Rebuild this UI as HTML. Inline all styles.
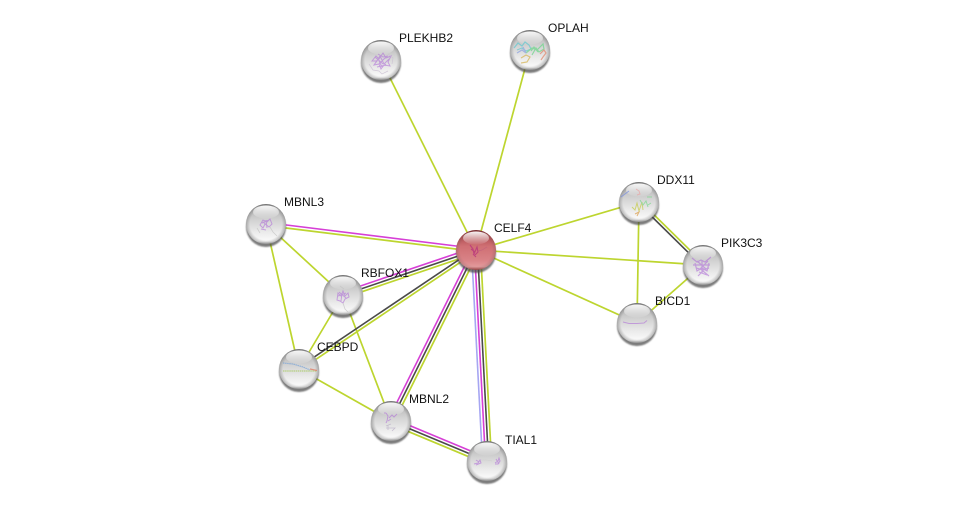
<!DOCTYPE html>
<html><head><meta charset="utf-8"><style>
html,body{margin:0;padding:0;background:#fff;width:976px;height:507px;overflow:hidden}
svg{display:block}
text{font-family:"Liberation Sans",sans-serif;font-size:12px;fill:#111}
.l{stroke:#bdd52f;stroke-width:1.7;fill:none}
.m{stroke:#d63fd6;stroke-width:1.6;fill:none}
.k{stroke:#4a4a4a;stroke-width:1.6;fill:none}
.b{stroke:#a6a6f2;stroke-width:1.6;fill:none}
.p{stroke:#b070d8;stroke-width:1;fill:none;opacity:.6;filter:url(#bl)}
.c{fill:none;filter:url(#bl);opacity:.75}
</style></head><body>
<svg width="976" height="507" viewBox="0 0 976 507" xmlns="http://www.w3.org/2000/svg">
<defs>
<filter id="bl" x="-20%" y="-20%" width="140%" height="140%"><feGaussianBlur stdDeviation=".35"/></filter>
<filter id="sb" x="-20%" y="-20%" width="140%" height="140%"><feGaussianBlur stdDeviation=".9"/></filter>
<linearGradient id="g" x1="0" y1="0" x2="0" y2="1">
<stop offset="0" stop-color="#858585"/><stop offset=".1" stop-color="#b4b4b4"/><stop offset=".4" stop-color="#d2d2d2"/><stop offset=".72" stop-color="#ececec"/><stop offset=".93" stop-color="#fafafa"/><stop offset="1" stop-color="#b8b8b8"/>
</linearGradient>
<radialGradient id="e" cx="50%" cy="50%" r="50%">
<stop offset=".8" stop-color="#555" stop-opacity="0"/><stop offset="1" stop-color="#444" stop-opacity=".35"/>
</radialGradient>
<linearGradient id="r" x1="0" y1="0" x2="0" y2="1">
<stop offset="0" stop-color="#7f2327"/><stop offset=".12" stop-color="#ab4a4e"/><stop offset=".4" stop-color="#cf6f73"/><stop offset=".75" stop-color="#d98286"/><stop offset=".92" stop-color="#e39a9c"/><stop offset="1" stop-color="#a44"/>
</linearGradient>
<linearGradient id="h" x1="0" y1="0" x2="0" y2="1">
<stop offset="0" stop-color="#fff" stop-opacity=".95"/><stop offset="1" stop-color="#fff" stop-opacity=".05"/>
</linearGradient>
<g id="n">
<circle cx="0" cy="3" r="20" fill="#444" opacity=".7" filter="url(#sb)"/>
<circle r="20" fill="url(#g)"/>
<circle r="20" fill="url(#e)"/>
<ellipse cx="0" cy="-12" rx="13" ry="6.500" fill="url(#h)"/>
</g>
<g id="nr">
<circle cx="0" cy="3" r="20" fill="#444" opacity=".7" filter="url(#sb)"/>
<circle r="20" fill="url(#r)"/>
<circle r="20" fill="url(#e)" opacity=".6"/>
<ellipse cx="0" cy="-12" rx="13" ry="6.500" fill="url(#h)"/>
</g>
</defs>
<rect width="976" height="507" fill="#fff"/>

<!-- single edges -->
<path class="l" d="M381 60L476 250M530 50L476 250M639 202L476 250M703 265L476 250M637 323L476 250"/>
<path class="l" d="M639 202L637 323M703 265L637 323"/>
<path class="l" d="M266 224L343 295M266 224L299 369M343 295L299 369M343 295L391 421M299 369L391 421"/>

<!-- CELF4 - MBNL3 -->
<path class="m" d="M266.200 222.500L476.200 248.500"/><path class="l" d="M265.800 225.500L475.800 251.500"/>
<!-- CELF4 - RBFOX1 -->
<path class="m" d="M342 292.200L475 247.200"/><path class="k" d="M343 295L476 250"/><path class="l" d="M344 297.800L477 252.800"/>
<!-- CELF4 - CEBPD -->
<path class="k" d="M298.200 367.800L475.200 248.800"/><path class="l" d="M299.800 370.200L476.800 251.200"/>
<!-- CELF4 - MBNL2 -->
<path class="m" d="M388.300 419.700L473.300 248.700"/><path class="k" d="M391 421L476 250"/><path class="l" d="M393.700 422.300L478.700 251.300"/>
<!-- CELF4 - TIAL1 -->
<path class="b" d="M482.500 461L471.500 250"/><path class="m" d="M485.500 461L474.500 250"/><path class="k" d="M488.500 461L477.500 250"/><path class="l" d="M491.500 461L480.500 250"/>
<!-- MBNL2 - TIAL1 -->
<path class="m" d="M392.200 418.200L488.200 458.200"/><path class="k" d="M391 421L487 461"/><path class="l" d="M389.800 423.800L485.800 463.800"/>
<!-- DDX11 - PIK3C3 -->
<path class="k" d="M638 203L702 266"/><path class="l" d="M640 201L704 264"/>

<!-- nodes -->
<g transform="translate(381,60)"><use href="#n"/>
<path class="p" d="M-9 1l4-5 3 3 4-6 3 5 5-2-3 6 2 4-6-1-3 4-2-5-5 1 3-4zM-6-3l8 7M6-4l-8 8M-4 7l9-2M-3-6l5 3 5-1M-7 5l6-9 4 8 5-5M-2 1l3 6 4-3"/>
<path class="c" stroke="#c8bcd0" stroke-width=".7" d="M-12 4l4 6 6 1 3 3 6-3M7-6l5 4-1 6"/></g>
<g transform="translate(530,50)"><use href="#n"/>
<g class="c" stroke-width="1.200">
<path d="M-16-2l4-5 4 3 3-4 4 3 2 4-5 2-4-3-5 2" stroke="#68c8d0"/>
<path d="M-4 3l6-5 5 2 6-6 1 5-5 3-3-4-4 7M1 1l3-4 4 5" stroke="#72d68e"/>
<path d="M-9 8l5-3 4 2-3 5-6 1" stroke="#d6b65a"/>
<path d="M10 4l4-4 2 3-3 4-2 3" stroke="#e28a70"/>
<path d="M-13 3l5-3 4 3-3-6" stroke="#8fa5e0"/></g></g>
<g transform="translate(639,202)"><use href="#n"/>
<g class="c" stroke-width="1">
<path d="M-18-5l8-6" stroke="#7a8fe0"/>
<path d="M-3-13l3 2 1 3-3 1" stroke="#e8a8a8"/>
<path d="M-7 5l3 3 2-7 2 8 3-9 1 8" stroke="#c6cc50"/>
<path d="M1-2l3 5 3-4 2 6M8-5l5 0M9 3l3-2" stroke="#80d890"/>
<path d="M-4 12l4-2-2 4" stroke="#dca050"/></g></g>
<g transform="translate(703,265)"><use href="#n"/>
<path class="p" style="stroke-width:1.200" d="M-11-7l5 4 4-2 4 2 6-5M-8-2l2 8 5-3 5 3 2-8M-7 3l7 2 6-2M-5 11l5-5 6 5M-1-5v13M-10 0h17M-6-4l9 8M5-4l-9 9M-4 7l8 3"/></g>
<g transform="translate(637,323)"><use href="#n"/><path class="p" d="M-14-1l6 1.500h8l7-.5 3-2.500"/></g>
<g transform="translate(266,224)"><use href="#n"/>
<path class="p" d="M-6 1l3-5 4 2 3-3 2 5-3 3-4-3-2 4zM-3-2l6 5M-5 5l5 1M-4-1l7-3M0-4l1 8"/>
<path class="c" stroke="#c4c4c4" stroke-width=".8" d="M-9 4l3 5M4 3l3 5 4 4"/></g>
<g transform="translate(343,295)"><use href="#n"/>
<path class="p" d="M-6 5l1-7 3 3 2-5 2 5 3-3 1 4-4 2-2 4-3-2zM-4-3l7 6M-5 1l8-3M-2 6l1-8"/>
<path class="c" stroke="#c4c4c4" stroke-width=".8" d="M-3-9l4 3M0 8l2 6 3 3"/></g>
<g transform="translate(299,369)"><use href="#n"/>
<g class="c" stroke-width="1.200">
<path d="M-16-6l10 1 10 3 7 3" stroke="#7aa5d8" stroke-dasharray="1.500 .6"/>
<path d="M-16 2h12 10l12 0" stroke="#a8cc60" stroke-dasharray="1.500 .6"/>
<path d="M11 0l7 1.500" stroke="#e07a60"/></g></g>
<g transform="translate(391,421)"><use href="#n"/>
<path class="p" d="M-5-8l2 3-1 5-1 2M-2-3l3-3 2 2 3-3M-5-8h-2M-3 0l3-2"/>
<path class="c" stroke="#bbb0c6" stroke-width=".8" d="M-5 5l5-2M-5 7h9l-3 3M-3 4v5"/></g>
<g transform="translate(487,461)"><use href="#n"/>
<path class="p" d="M-13 3l4-1 2-3 1 3-5 2M-11-1l3 2M8 2l3-2 1-3 1 3-2 3-3 0M9-2l3 5"/>
<path class="c" stroke="#ccc" stroke-width=".6" d="M-6-1h6l5 1"/></g>
<g transform="translate(476,250)"><use href="#nr"/>
<path class="c" stroke="#b8327c" stroke-width="1.100" d="M-6-5l3 4 1 5 3-7 1 5-3 3M-5-1l4 3M-3 4l3 3"/>
<path class="c" stroke="#c0607c" stroke-width=".7" d="M2 1l4-1 5-3"/></g>

<!-- labels -->
<text x="399" y="42">PLEKHB2</text>
<text x="548" y="32">OPLAH</text>
<text x="657" y="184">DDX11</text>
<text x="721" y="247">PIK3C3</text>
<text x="655" y="305">BICD1</text>
<text x="494" y="232">CELF4</text>
<text x="284" y="206">MBNL3</text>
<text x="361" y="277">RBFOX1</text>
<text x="317" y="351">CEBPD</text>
<text x="409" y="403">MBNL2</text>
<text x="505" y="444">TIAL1</text>
</svg>
</body></html>
